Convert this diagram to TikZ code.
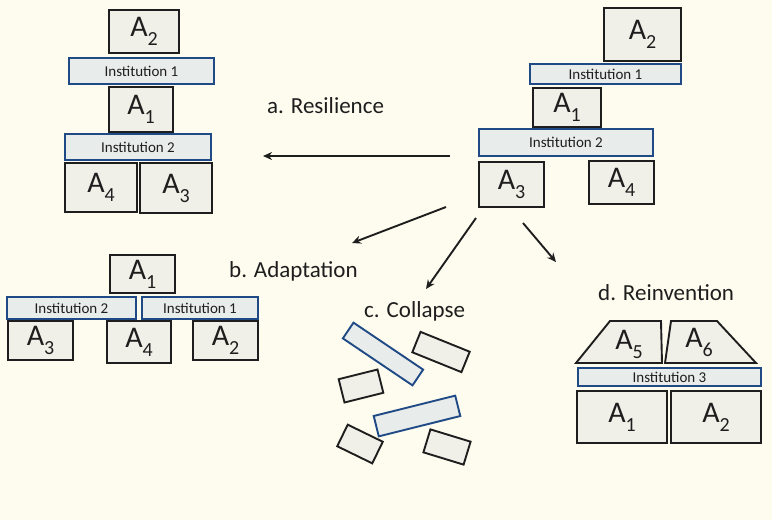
\documentclass[tikz,border=0pt]{standalone}
\usepackage{fontspec}
\setmainfont{Carlito}
\usetikzlibrary{arrows.meta}
\definecolor{paper}{HTML}{FDFCEF}
\definecolor{boxfill}{HTML}{F1F0E8}
\definecolor{instfill}{HTML}{E8ECEA}
\definecolor{instline}{HTML}{1F4A86}
\definecolor{ink}{HTML}{1E1E1E}
\tikzset{
  actor/.style={draw=ink, fill=boxfill, line width=1.9pt, inner sep=0pt,
    font=\fontsize{30}{32}\selectfont, text=ink},
  inst/.style={draw=instline, fill=instfill, line width=1.9pt, inner sep=0pt,
    font=\fontsize{15}{17}\selectfont, text=ink},
  plate/.style={draw=ink, fill=boxfill, line width=1.9pt},
  tag/.style={font=\fontsize{23}{25}\selectfont, text=ink, inner sep=0pt, anchor=base west},
  flow/.style={draw=ink, line width=1.9pt, -{Stealth[length=9pt,width=8pt]}},
}
\newcommand{\Asub}[1]{A\raisebox{-0.3em}{\fontsize{20}{21}\selectfont #1}}
\begin{document}
\begin{tikzpicture}[x=1pt,y=-1pt]
\fill[paper] (0,0) rectangle (772,520);
\useasboundingbox (0,0) rectangle (772,520);

% ---- a. Resilience (left column)
\node[actor, minimum width=70, minimum height=43] (aA2) at (144,31.5) {\Asub{2}};
\node[inst, minimum width=145, minimum height=26] (aI1) at (141.5,71) {Institution 1};
\node[actor, minimum width=64, minimum height=45] (aA1) at (141,109.5) {\Asub{1}};
\node[inst, minimum width=146, minimum height=26] (aI2) at (138,147) {Institution 2};
\node[actor, minimum width=72, minimum height=49] (aA4) at (101,187.5) {\Asub{4}};
\node[actor, minimum width=72, minimum height=50] (aA3) at (176,188) {\Asub{3}};

% ---- starting configuration (upper right)
\node[actor, minimum width=77, minimum height=53] (rA2) at (642.5,34.5) {\Asub{2}};
\node[inst, minimum width=151, minimum height=20] (rI1) at (605.5,74) {Institution 1};
\node[actor, minimum width=68, minimum height=39] (rA1) at (567,107.5) {\Asub{1}};
\node[inst, minimum width=174, minimum height=27] (rI2) at (566,142.5) {Institution 2};
\node[actor, minimum width=65, minimum height=45] (rA3) at (511.5,184.5) {\Asub{3}};
\node[actor, minimum width=65, minimum height=43] (rA4) at (621.5,182.5) {\Asub{4}};

% ---- b. Adaptation
\node[actor, minimum width=65, minimum height=38] (bA1) at (142.5,274) {\Asub{1}};
\node[inst, minimum width=129, minimum height=22] (bI2) at (71.5,308) {Institution 2};
\node[inst, minimum width=116, minimum height=22] (bI1) at (200,308) {Institution 1};
\node[actor, minimum width=65, minimum height=39] (bA3) at (40.5,340.5) {\Asub{3}};
\node[actor, minimum width=64, minimum height=42] (bA4) at (139,342) {\Asub{4}};
\node[actor, minimum width=65, minimum height=39] (bA2) at (225.5,340.5) {\Asub{2}};

% ---- c. Collapse: scattered pieces
\node[inst, minimum width=84, minimum height=19, rotate=-34] (c1) at (383,354) {};
\node[actor, minimum width=53, minimum height=22, rotate=-22] (c2) at (441,352) {};
\node[actor, minimum width=40, minimum height=24, rotate=14] (c3) at (361,386) {};
\node[inst, minimum width=84, minimum height=21, rotate=14] (c4) at (417,416) {};
\node[actor, minimum width=39, minimum height=24, rotate=-26] (c5) at (360,444) {};
\node[actor, minimum width=42, minimum height=24, rotate=-17] (c6) at (447,447) {};

% ---- d. Reinvention
\draw[plate] (576,363) -- (610,321) -- (661,321) -- (662,363) -- cycle;
\draw[plate] (665,363) -- (671,321) -- (717,321) -- (756,363) -- cycle;
\node[font=\fontsize{30}{32}\selectfont, text=ink, inner sep=0pt] (dA5) at (629,344) {\Asub{5}};
\node[font=\fontsize{30}{32}\selectfont, text=ink, inner sep=0pt] (dA6) at (699,342) {\Asub{6}};
\node[inst, minimum width=183, minimum height=18] (dI3) at (669.5,377) {Institution 3};
\node[actor, minimum width=90, minimum height=52] (dA1) at (622,417) {\Asub{1}};
\node[actor, minimum width=90, minimum height=52] (dA2) at (716,417) {\Asub{2}};

% ---- labels
\node[tag] (la) at (267,113) {a. Resilience};
\node[tag] (lb) at (229,277) {b. Adaptation};
\node[tag] (lc) at (364,317) {c. Collapse};
\node[tag] (ld) at (598,300) {d. Reinvention};

% ---- transition arrows
\coordinate (sa) at (450,156);
\coordinate (ea) at (263,156);
\coordinate (sb) at (446,207);
\coordinate (eb) at (352,243);
\coordinate (sc) at (476,218);
\coordinate (ec) at (426,289);
\coordinate (sd) at (523,223);
\coordinate (ed) at (556,262);
\draw[flow] (sa) -- (ea);
\draw[flow] (sb) -- (eb);
\draw[flow] (sc) -- (ec);
\draw[flow] (sd) -- (ed);
\end{tikzpicture}
\end{document}
